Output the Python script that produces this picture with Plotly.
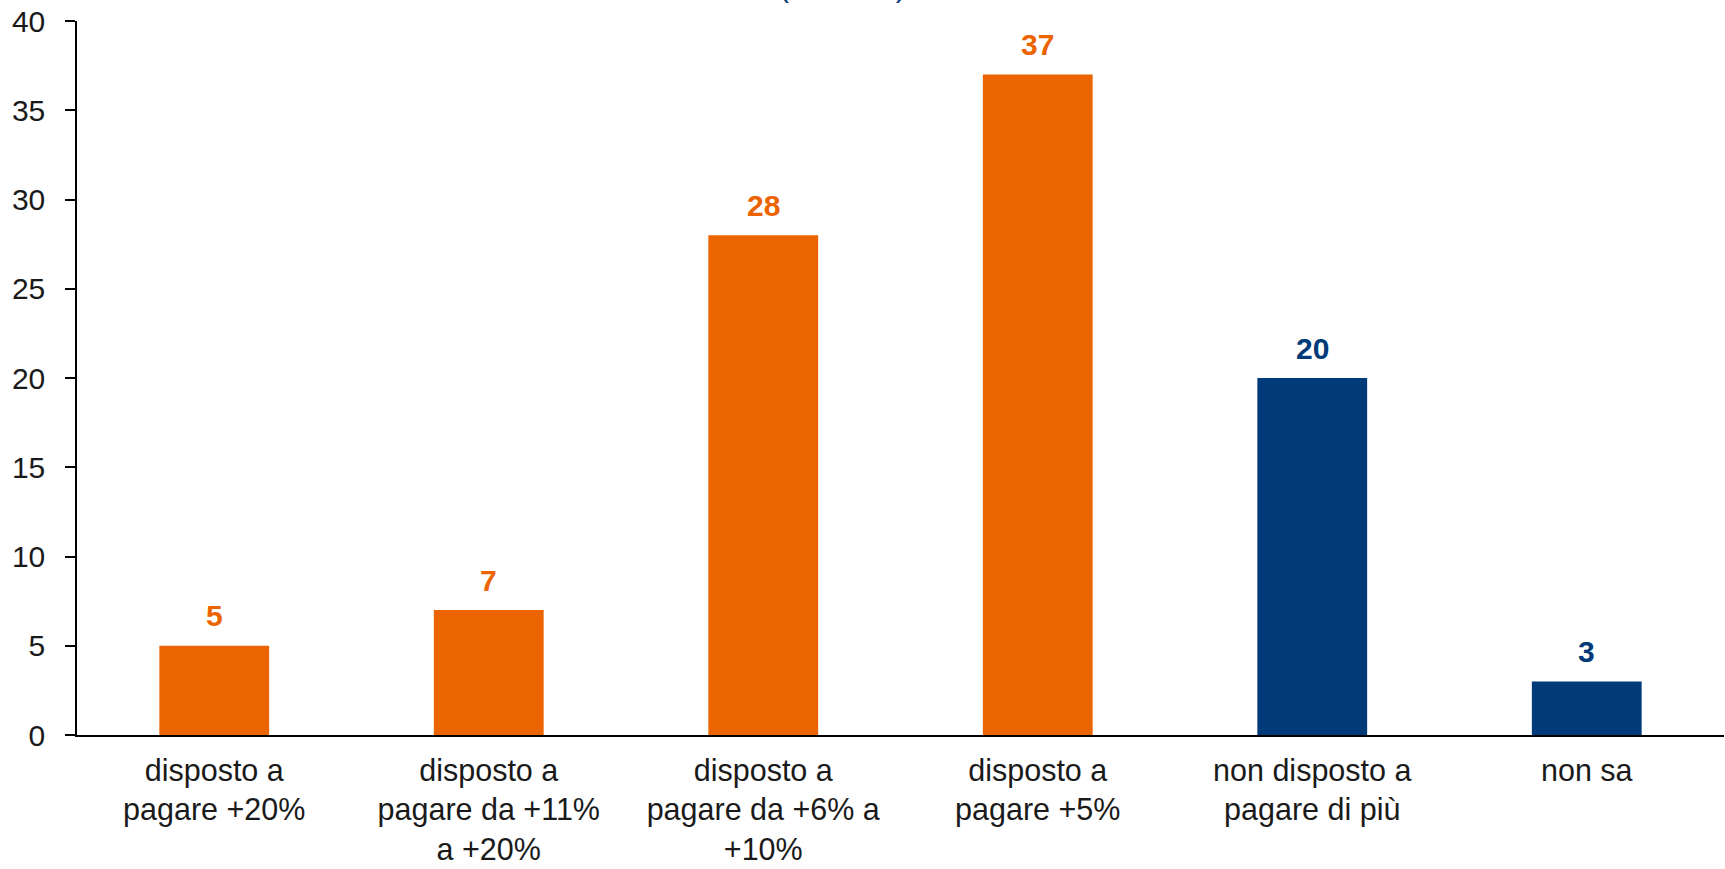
import plotly.graph_objects as go

# Willingness to pay more (percent of respondents)
categories = [
    "disposto a<br>pagare +20%",
    "disposto a<br>pagare da +11%<br>a +20%",
    "disposto a<br>pagare da +6% a<br>+10%",
    "disposto a<br>pagare +5%",
    "non disposto a<br>pagare di più",
    "non sa",
]
values = [5, 7, 28, 37, 20, 3]
groups = ["yes", "yes", "yes", "yes", "no", "no"]
y_ticks = [0, 5, 10, 15, 20, 25, 30, 35, 40]

ORANGE = "#EC6400"
BLUE = "#003A78"
palette = {"yes": ORANGE, "no": BLUE}
bar_colors = [palette[g] for g in groups]

FONT = "Liberation Sans, Arial, sans-serif"

fig = go.Figure(
    go.Bar(
        x=categories,
        y=values,
        marker=dict(color=bar_colors, line=dict(width=0)),
        width=0.4,
        hoverinfo="x+y",
    )
)

# value labels above each bar
for cat, val, col in zip(categories, values, bar_colors):
    fig.add_annotation(
        x=cat, y=val, xref="x", yref="y",
        text=f"<b>{val}</b>", showarrow=False,
        yanchor="middle", yshift=30,
        font=dict(family=FONT, size=30, color=col),
    )

# chart heading, running off the top edge of the page
fig.add_annotation(
    xref="paper", yref="paper", x=0.465, y=1.0,
    xanchor="center", yanchor="bottom", yshift=16,
    text="(valori %)", showarrow=False,
    font=dict(family=FONT, size=30, color=BLUE),
)

fig.update_layout(
    width=1725, height=869,
    margin=dict(l=77, r=1, t=21, b=134),
    paper_bgcolor="white", plot_bgcolor="white",
    showlegend=False,
    font=dict(family=FONT, size=30, color="#1a1a1a"),
)
fig.update_xaxes(
    type="category", automargin=False,
    showline=True, linecolor="black", linewidth=2,
    ticks="", showgrid=False, zeroline=False,
    tickfont=dict(family=FONT, size=30.5, color="#1a1a1a"),
    ticklabelstandoff=7,
)
fig.update_yaxes(
    range=[0, 40], tickvals=y_ticks, automargin=False,
    showline=True, linecolor="black", linewidth=1.5,
    ticks="outside", ticklen=10, tickwidth=1.5, tickcolor="black",
    showgrid=False, zeroline=False,
    tickfont=dict(family=FONT, size=30, color="#1a1a1a"),
    ticklabelstandoff=14,
)

fig.write_html("out.html")
